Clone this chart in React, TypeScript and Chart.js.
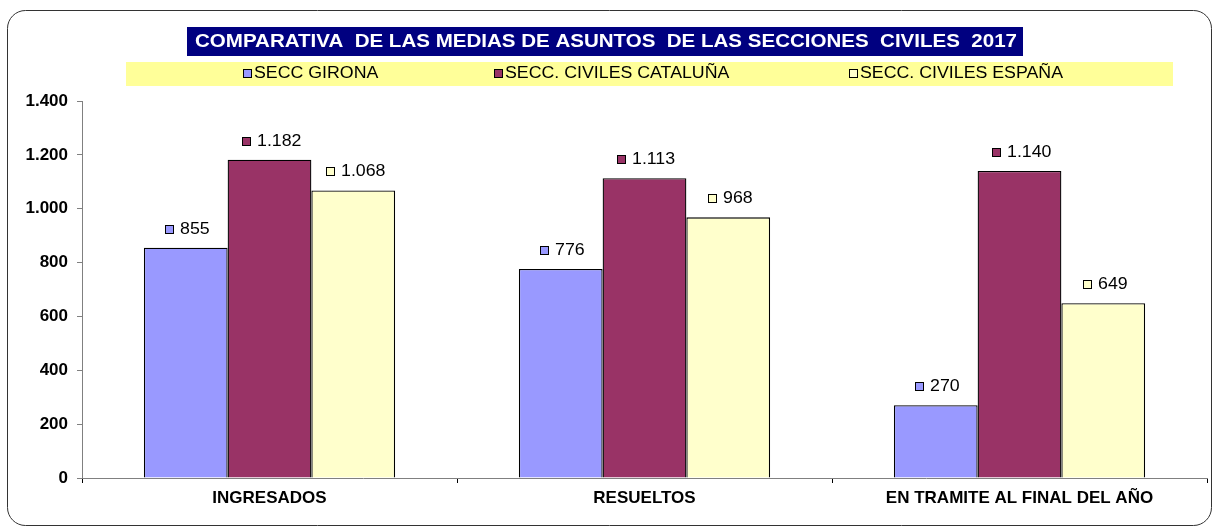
import React, { useEffect, useRef } from "react";
import { Chart, registerables } from "chart.js";

Chart.register(...registerables);

const categories = ["INGRESADOS", "RESUELTOS", "EN TRAMITE AL FINAL DEL AÑO"];
const seriesNames = ["SECC GIRONA", "SECC. CIVILES CATALUÑA", "SECC. CIVILES ESPAÑA"];
const gironaValues = [855, 776, 270];
const cataluniaValues = [1182, 1113, 1140];
const espanaValues = [1068, 968, 649];
const seriesColors = ["#9999FF", "#993366", "#FFFFCC"];
const yMin = 0;
const yMax = 1400;
const yStep = 200;
const titleText = "COMPARATIVA  DE LAS MEDIAS DE ASUNTOS  DE LAS SECCIONES  CIVILES  2017";

const FONT = "Arial, 'Liberation Sans', sans-serif";
const W = 1213;
const H = 528;

// layout (style) constants
const legendItemX = [243, 494, 849];
const STRETCH = 1.11;

function fmt(v: number): string {
  const s = Math.round(v).toString();
  return s.replace(/\B(?=(\d{3})+(?!\d))/g, ".");
}

function stretchedText(ctx: any, txt: string, x: number, y: number, sx: number) {
  ctx.save();
  ctx.translate(x, y);
  ctx.scale(sx, 1);
  ctx.fillText(txt, 0, 0);
  ctx.restore();
}

const decorPlugin = {
  id: "decor",
  beforeDraw(chart: any) {
    const ctx = chart.ctx;
    ctx.save();
    ctx.fillStyle = "#ffffff";
    ctx.fillRect(0, 0, W, H);
    // outer rounded border
    ctx.strokeStyle = "#333333";
    ctx.lineWidth = 1;
    ctx.beginPath();
    ctx.roundRect(7.5, 10.5, 1204, 515, 18);
    ctx.stroke();
    // title box
    ctx.fillStyle = "#000080";
    ctx.fillRect(187, 27, 836, 29);
    ctx.fillStyle = "#ffffff";
    ctx.font = `bold 18px ${FONT}`;
    ctx.textAlign = "center";
    ctx.textBaseline = "middle";
    const tw = ctx.measureText(titleText).width;
    stretchedText(ctx, titleText, 606, 42, 822 / tw);
    // legend box
    ctx.fillStyle = "#FFFF99";
    ctx.fillRect(126, 62, 1047, 24);
    ctx.font = `16px ${FONT}`;
    ctx.textAlign = "left";
    seriesNames.forEach((name, i) => {
      const x = legendItemX[i];
      ctx.fillStyle = seriesColors[i];
      ctx.fillRect(x + 0.5, 69.5, 8, 8);
      ctx.strokeStyle = "#000";
      ctx.strokeRect(x + 0.5, 69.5, 8, 8);
      ctx.fillStyle = "#000";
      stretchedText(ctx, name, x + 11, 74, STRETCH);
    });
    ctx.restore();
  },
  afterDatasetsDraw(chart: any) {
    const ctx = chart.ctx;
    ctx.save();
    ctx.font = `16px ${FONT}`;
    ctx.textBaseline = "middle";
    ctx.textAlign = "left";
    chart.data.datasets.forEach((ds: any, di: number) => {
      const meta = chart.getDatasetMeta(di);
      meta.data.forEach((bar: any, i: number) => {
        const txt = fmt(ds.data[i]);
        const tw = ctx.measureText(txt).width * STRETCH;
        const total = 9 + 6 + tw;
        const left = Math.round(bar.x - total / 2 + 2);
        const cy = Math.round(bar.y - 18);
        ctx.fillStyle = seriesColors[di];
        ctx.fillRect(left + 0.5, cy - 4.5, 8, 8);
        ctx.strokeStyle = "#000";
        ctx.lineWidth = 1;
        ctx.strokeRect(left + 0.5, cy - 4.5, 8, 8);
        ctx.fillStyle = "#000";
        stretchedText(ctx, txt, left + 15, cy, STRETCH);
      });
    });
    ctx.restore();
  },
};

export default function App() {
  const ref = useRef<HTMLCanvasElement>(null);
  useEffect(() => {
    document.body.style.margin = "0";
    const canvas = ref.current!;
    const datasets = [gironaValues, cataluniaValues, espanaValues].map((vals, i) => ({
      label: seriesNames[i],
      data: vals,
      backgroundColor: seriesColors[i],
      borderColor: "#000000",
      borderWidth: 1.3,
      categoryPercentage: 0.67,
      barPercentage: 1.0,
    }));
    const chart = new Chart(canvas, {
      type: "bar",
      data: { labels: categories, datasets },
      options: {
        responsive: false,
        animation: false,
        devicePixelRatio: 1,
        layout: { padding: { left: 0, right: 6, top: 101, bottom: 0 } },
        plugins: {
          legend: { display: false },
          title: { display: false },
          tooltip: { enabled: false },
        },
        scales: {
          x: {
            afterFit: (s: any) => {
              s.height = 50;
            },
            grid: {
              display: true,
              drawOnChartArea: false,
              offset: true,
              tickLength: 5,
              color: "#000000",
            },
            border: { color: "#808080", width: 1 },
            ticks: {
              color: "#000000",
              font: { family: FONT, size: 17, weight: "bold" },
              padding: 5,
              maxRotation: 0,
            },
          },
          y: {
            min: yMin,
            max: yMax,
            afterFit: (s: any) => {
              s.width = 82;
            },
            grid: {
              display: true,
              drawOnChartArea: false,
              tickLength: 5,
              color: "#808080",
            },
            border: { color: "#808080", width: 1 },
            ticks: {
              stepSize: yStep,
              color: "#000000",
              font: { family: FONT, size: 17, weight: "bold" },
              padding: 9,
              callback: (v: any) => fmt(Number(v)),
            },
          },
        },
      },
      plugins: [decorPlugin],
    });
    return () => chart.destroy();
  }, []);
  return (
    <div style={{ position: "absolute", left: 0, top: 0, width: W, height: H }}>
      <canvas ref={ref} width={W} height={H} style={{ width: W, height: H, display: "block" }} />
    </div>
  );
}
